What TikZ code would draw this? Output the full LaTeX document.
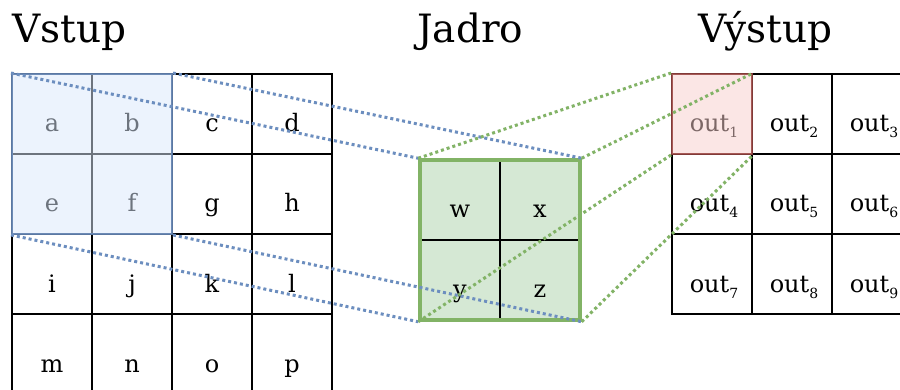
\documentclass[tikz,border=0pt]{standalone}
\usepackage{fontspec}
\setmainfont{DejaVu Serif}
\definecolor{blueln}{HTML}{6C8EBF}
\definecolor{bluefill}{HTML}{DAE8FC}
\definecolor{greenln}{HTML}{82B366}
\definecolor{greenfill}{HTML}{D5E8D4}
\definecolor{redln}{HTML}{B85450}
\definecolor{redfill}{HTML}{F8CECC}
\newcommand{\outsub}[1]{out\raisebox{-6pt}{\fontsize{14}{14}\selectfont #1}}
\begin{document}
\begin{tikzpicture}[x=1pt,y=-1pt,
  cell/.style={draw=black,line width=1.3pt,minimum size=80pt,inner sep=0pt,
    font=\fontsize{24}{24}\selectfont,text height=36pt,text depth=0pt},
  kcell/.style={cell,fill=greenfill},
  title/.style={anchor=base west,inner sep=0pt,font=\fontsize{39}{39}\selectfont},
  hlin/.style={draw=blueln,draw opacity=0.85,line width=2pt,fill=bluefill,fill opacity=0.5,minimum size=160pt,inner sep=0pt},
  hlout/.style={draw=redln,draw opacity=0.7,line width=2pt,fill=redfill,fill opacity=0.5,minimum size=80pt,inner sep=0pt},
  kframe/.style={draw=greenln,line width=3.5pt,minimum size=160pt,inner sep=0pt},
  bdot/.style={draw=blueln,line width=3pt,dash pattern=on 3pt off 3pt},
  gdot/.style={draw=greenln,line width=3pt,dash pattern=on 3pt off 3pt}]
\useasboundingbox (0,0) rectangle (900,390);
\clip (0,0) rectangle (900,390);
\fill[white] (0,0) rectangle (900,390);
% titles
\node[title] (tin) at (12,43) {Vstup};
\node[title] (tker) at (417,43) {Jadro};
\node[title] (tout) at (698,43) {Výstup};
% input grid
\foreach \t [count=\i from 0] in {a,b,c,d,e,f,g,h,i,j,k,l,m,n,o,p} {
  \pgfmathtruncatemacro{\col}{mod(\i,4)}
  \pgfmathtruncatemacro{\row}{div(\i,4)}
  \node[cell] (in\t) at ({52+80*\col},{114+80*\row}) {\t};
}
\node[hlin] (hin) at (92,154) {};
% kernel
\node[kcell] (kw) at (460,200) {w};
\node[kcell] (kx) at (540,200) {x};
\node[kcell] (ky) at (460,280) {y};
\node[kcell] (kz) at (540,280) {z};
\node[kframe] (ker) at (500,240) {};
% output grid
\foreach \n in {1,...,9} {
  \pgfmathtruncatemacro{\col}{mod(\n-1,3)}
  \pgfmathtruncatemacro{\row}{div(\n-1,3)}
  \node[cell,text width=80pt,align=center] (out\n) at ({712+80*\col},{114+80*\row}) {\hspace*{4pt}\outsub{\n}};
}
\node[hlout] (hout) at (712,114) {};
% dotted connectors
\draw[bdot] (hin.north west) -- (ker.north west);
\draw[bdot] (hin.north east) -- (ker.north east);
\draw[bdot] (hin.south west) -- (ker.south west);
\draw[bdot] (hin.south east) -- (ker.south east);
\draw[gdot] (ker.north west) -- (hout.north west);
\draw[gdot] (ker.north east) -- (hout.north east);
\draw[gdot] (ker.south west) -- (hout.south west);
\draw[gdot] (ker.south east) -- (hout.south east);
\end{tikzpicture}
\end{document}
